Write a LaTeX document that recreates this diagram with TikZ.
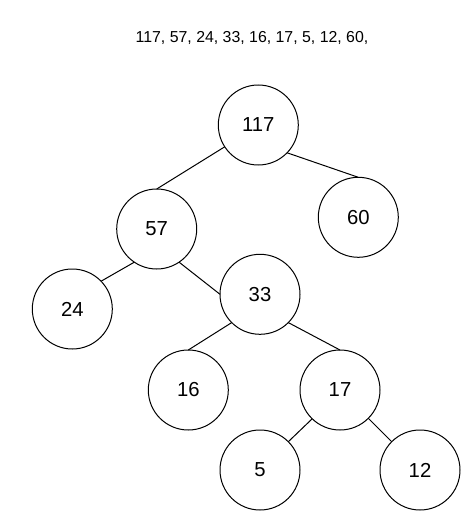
\documentclass[tikz,border=0pt]{standalone}
\usepackage{fontspec}
\setmainfont{Liberation Sans}
\usepackage{tikz}
\usetikzlibrary{
  positioning,
  calc
}
\definecolor{edgecolor}{RGB}{0, 0, 0}
\definecolor{labelcolor}{RGB}{0, 0, 0}
\tikzset{
keytext/.style={
  align=center,
  font=\fontsize{15.2}{18}\selectfont,
  text=labelcolor
},
keynode/.style={
  draw=edgecolor,
  circle,
  fill=white,
  line width=0.75pt,
  minimum size=60pt,
  inner sep=0pt,
  outer sep=0pt,
  keytext
},
orderlabel/.style={
  font=\fontsize{11.9}{14}\selectfont,
  text=labelcolor,
  anchor=base
},
treeedge/.style={
  draw=edgecolor,
  line width=0.75pt
}
}

\begin{document}
\begin{tikzpicture}[x=0.75pt, y=-0.75pt]
      \useasboundingbox (0,0) rectangle (474,531);

      % Insertion order
      \node[orderlabel] (order) at (252,42.7)
        {117, 57, 24, 33, 16, 17, 5, 12, 60,};

      % Tree
      \node[keynode] (k117) at (258.3,125) {117};
      \node[keynode] (k57) at (156.7,229) {57};
      \node[keynode] (k60) at (358.3,217.3) {60};
      \node[keynode] (k24) at (72.3,309) {24};
      \node[keynode] (k33) at (260,294.3) {33};
      \node[keynode] (k16) at (188.3,390) {16};
      \node[keynode] (k17) at (340,390) {17};
      \node[keynode] (k5) at (260,470) {5};
      \node[keynode] (k12) at (420,470) {12};

      \draw[treeedge] (k117.213.7) -- (k57.north);
      \draw[treeedge] (k117.316) -- (k60.north);
      \draw[treeedge] (k57.236.4) -- (k24.44);
      \draw[treeedge] (k57.304.8) -- (k33.west);
      \draw[treeedge] (k33.225) -- (k16.north);
      \draw[treeedge] (k33.315) -- (k17.north);
      \draw[treeedge] (k17.226.6) -- (k5.45);
      \draw[treeedge] (k17.315) -- (k12.135);
    \end{tikzpicture}
\end{document}
